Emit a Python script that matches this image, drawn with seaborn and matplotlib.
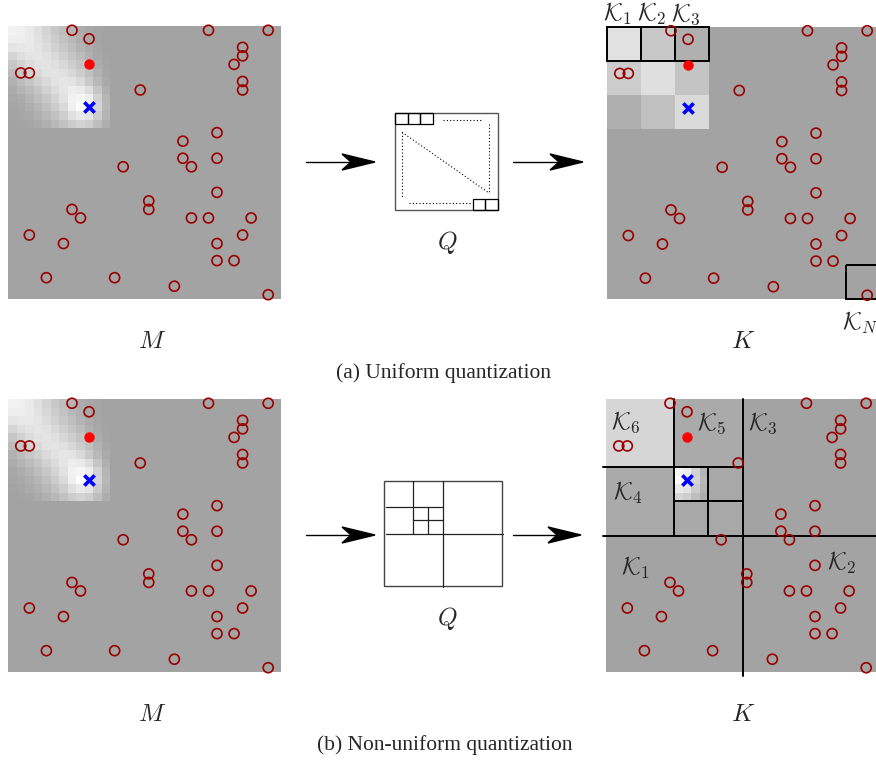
# quantization figure: map M -> quantizer Q -> quantized map K
import numpy as np
import matplotlib
matplotlib.use("Agg")
import matplotlib.pyplot as plt
import seaborn as sns
from matplotlib.patches import Rectangle, Polygon

sns.set_theme(style="white")
plt.rcParams['font.family'] = ['Liberation Serif', 'DejaVu Serif']
plt.rcParams['mathtext.fontset'] = 'cm'

# ---- data -------------------------------------------------------------
N_CELLS = 32
BACKGROUND = 163

# grey levels of the bright patch in the top left corner of M (12 x 12 cells)
heat_patch = [
    [242, 240, 234, 224, 212, 200, 190, 180, 172, 168, 165, 163],
    [238, 238, 234, 226, 216, 205, 194, 184, 175, 168, 165, 163],
    [228, 232, 233, 228, 220, 210, 200, 190, 180, 172, 166, 163],
    [212, 222, 228, 230, 226, 218, 208, 198, 188, 176, 168, 164],
    [198, 210, 220, 226, 228, 224, 216, 206, 196, 184, 172, 165],
    [188, 198, 210, 218, 226, 228, 224, 216, 205, 192, 178, 167],
    [178, 188, 198, 208, 218, 226, 230, 228, 218, 202, 184, 170],
    [172, 180, 188, 198, 210, 220, 230, 238, 234, 222, 198, 176],
    [168, 172, 180, 190, 200, 212, 226, 242, 246, 238, 210, 182],
    [166, 168, 174, 182, 192, 204, 218, 240, 252, 242, 212, 184],
    [164, 166, 170, 176, 184, 194, 206, 224, 234, 228, 204, 180],
    [163, 164, 166, 170, 176, 184, 194, 204, 212, 206, 190, 174],
]

# uniform quantization: mean grey of the 4x4-cell blocks
uniform_blocks = [
    [225, 200, 176],
    [204, 223, 196],
    [174, 192, 218],
]
BLOCK = 4
boxed_blocks = [(0, 0), (0, 1), (0, 2), (7, 7)]   # (row, col) of outlined blocks
box_labels = [r'$\mathcal{K}_1$', r'$\mathcal{K}_2$', r'$\mathcal{K}_3$', r'$\mathcal{K}_N$']

# non-uniform quantization: regions (row0, row1, col0, col1, grey)
quad_regions = [
    (0, 8, 0, 8, 214),
    (0, 8, 8, 16, 170),
    (8, 16, 0, 8, 170),
    (8, 12, 12, 16, 168),
    (12, 16, 8, 12, 168),
    (12, 16, 12, 16, 168),
]
fine_block = (8, 12, 8, 12)    # block kept at full resolution
# split lines of the quadtree (x0, y0, x1, y1) in cells
quad_lines = [
    (16, 0, 16, 32.5),
    (-0.3, 16, 32.5, 16),
    (-0.3, 8, 16, 8),
    (8, 0, 8, 16),
    (12, 8, 12, 16),
    (8, 12, 16, 12),
]
quad_labels = [r'$\mathcal{K}_1$', r'$\mathcal{K}_2$', r'$\mathcal{K}_3$',
               r'$\mathcal{K}_4$', r'$\mathcal{K}_5$', r'$\mathcal{K}_6$']
quad_label_x = [1.8, 25.9, 16.6, 0.8, 10.7, 0.6]
quad_label_y = [20.6, 20.0, 3.6, 11.8, 3.6, 3.5]

# other agents, target and own position (cell column, cell row)
obstacle_cols = [7, 9, 23, 30, 27, 27, 26, 27, 27, 1, 2, 15, 24, 20, 20, 21, 24, 13,
                 24, 16, 16, 7, 8, 21, 23, 28, 2, 6, 27, 24, 24, 26, 4, 12, 19, 30]
obstacle_rows = [0, 1, 0, 0, 2, 3, 4, 6, 7, 5, 5, 7, 12, 13, 15, 16, 15, 16,
                 19, 20, 21, 21, 22, 22, 22, 22, 24, 25, 24, 25, 27, 27, 29, 29, 30, 31]
target_cell = (9, 4)
agent_cell = (9, 9)

# ---- grids ------------------------------------------------------------
n_patch = len(heat_patch)
grid_m = np.full((N_CELLS, N_CELLS), BACKGROUND, dtype=float)
grid_m[:n_patch, :n_patch] = heat_patch

grid_uniform = np.full((N_CELLS, N_CELLS), BACKGROUND, dtype=float)
grid_uniform[:n_patch, :n_patch] = np.kron(np.array(uniform_blocks), np.ones((BLOCK, BLOCK)))

grid_quad = np.full((N_CELLS, N_CELLS), BACKGROUND, dtype=float)
for r0, r1, c0, c1, val in quad_regions:
    grid_quad[r0:r1, c0:c1] = val
r0, r1, c0, c1 = fine_block
grid_quad[r0:r1, c0:c1] = grid_m[r0:r1, c0:c1]

# ---- figure -----------------------------------------------------------
W, H = 876, 760
fig = plt.figure(figsize=(W / 100, H / 100), dpi=100)


def px_axes(left, top, width, height):
    # axes placed by pixel box (origin top left)
    return fig.add_axes([left / W, 1 - (top + height) / H, width / W, height / H])


canvas = px_axes(0, 0, W, H)
canvas.set_xlim(0, W)
canvas.set_ylim(H, 0)
canvas.axis('off')


def draw_map(ax, grid):
    sns.heatmap(grid, cmap='gray', vmin=0, vmax=255, cbar=False,
                xticklabels=False, yticklabels=False, ax=ax)
    ax.set_xlim(0, N_CELLS)
    ax.set_ylim(N_CELLS, 0)


def draw_agents(ax):
    xs = np.array(obstacle_cols) + 0.5
    ys = np.array(obstacle_rows) + 0.5
    ax.scatter(xs, ys, s=52, facecolors='none', edgecolors='#990000',
               linewidths=1.2, zorder=5, clip_on=False)
    ax.scatter([target_cell[0] + 0.5], [target_cell[1] + 0.5], s=42, color='#ff0000',
               zorder=6, clip_on=False)
    ax.scatter([agent_cell[0] + 0.5], [agent_cell[1] + 0.5], s=55, marker='x',
               color='#0000ff', linewidths=2.6, zorder=6, clip_on=False)


MAP = 273
rows_top = [26, 399]
LABEL_FS = 17.5

# left column: raw maps M
for top in rows_top:
    ax = px_axes(8, top, MAP, MAP)
    draw_map(ax, grid_m)
    draw_agents(ax)

# (a) uniform K
ax_u = px_axes(607, 26.5, MAP, MAP)
draw_map(ax_u, grid_uniform)
for (br, bc), lab in zip(boxed_blocks, box_labels):
    ax_u.add_patch(Rectangle((bc * BLOCK, br * BLOCK), BLOCK, BLOCK, fill=False,
                             edgecolor='black', lw=1.4, zorder=4, clip_on=False))
for (br, bc), lab in zip(boxed_blocks[:3], box_labels[:3]):
    ax_u.text(bc * BLOCK - 0.5, -0.7, lab, fontsize=LABEL_FS, ha='left', va='baseline',
              clip_on=False)
ax_u.text(27.6, 35.6, box_labels[3], fontsize=LABEL_FS, ha='left', va='baseline',
          clip_on=False)
draw_agents(ax_u)

# (b) non-uniform K
ax_q = px_axes(606, 399, MAP, MAP)
draw_map(ax_q, grid_quad)
for x0, y0, x1, y1 in quad_lines:
    ax_q.plot([x0, x1], [y0, y1], color='black', lw=1.4, zorder=4, clip_on=False)
for lab, lx, ly in zip(quad_labels, quad_label_x, quad_label_y):
    ax_q.text(lx, ly, lab, fontsize=LABEL_FS, ha='left', va='baseline', zorder=7)
draw_agents(ax_q)

# quantizer sketch (a): block list Q
q_a = px_axes(395, 113, 103, 97)
q_a.set_xlim(0, 1)
q_a.set_ylim(1, 0)
q_a.axis('off')
q_a.add_patch(Rectangle((0, 0), 1, 1, fill=False, edgecolor='#555555', lw=1.0, clip_on=False))
for i in range(3):
    q_a.add_patch(Rectangle((i * 0.122, 0), 0.122, 0.117, fill=False,
                            edgecolor='black', lw=0.9, clip_on=False))
for i in range(2):
    q_a.add_patch(Rectangle((0.756 + i * 0.122, 0.887), 0.122, 0.113, fill=False,
                            edgecolor='black', lw=0.9, clip_on=False))
dotted = [
    ((0.466, 0.854), (0.068, 0.068)),
    ((0.913, 0.913), (0.117, 0.825)),
    ((0.068, 0.913), (0.198, 0.825)),
    ((0.068, 0.068), (0.198, 0.866)),
    ((0.136, 0.748), (0.925, 0.925)),
]
for xs, ys in dotted:
    q_a.plot(xs, ys, color='black', lw=0.8, ls=(0, (1, 2)))

# quantizer sketch (b): quadtree Q
q_b = px_axes(384, 481, 117.5, 105)
q_b.set_xlim(0, N_CELLS)
q_b.set_ylim(N_CELLS, 0)
q_b.axis('off')
q_b.add_patch(Rectangle((0, 0), N_CELLS, N_CELLS, fill=False, edgecolor='#444444',
                        lw=1.0, clip_on=False))
for x0, y0, x1, y1 in quad_lines:
    q_b.plot([max(x0, 0.5), min(x1, 32.3)], [max(y0, 0.0), min(y1, 32.3)],
             color='#222222', lw=0.9, clip_on=False)

# arrows (stealth heads)
arrows = [(306, 375, 162), (513, 583, 162), (306, 375, 535), (513, 581, 535)]
for x0, x1, y in arrows:
    canvas.plot([x0, x1 - 20], [y, y], color='black', lw=1.0)
    canvas.add_patch(Polygon([(x1, y), (x1 - 33, y - 8), (x1 - 24, y), (x1 - 33, y + 8)],
                             closed=True, color='black'))

# labels and captions
for yy in (342, 715):
    canvas.text(152, yy, '$M$', fontsize=18, ha='center', va='center')
    canvas.text(743, yy, '$K$', fontsize=18, ha='center', va='center')
canvas.text(447, 243, '$Q$', fontsize=18, ha='center', va='center')
canvas.text(447, 619, '$Q$', fontsize=18, ha='center', va='center')
canvas.text(443, 373, '(a) Uniform quantization', fontsize=15.5, ha='center', va='center')
canvas.text(445, 745, '(b) Non-uniform quantization', fontsize=15.5, ha='center', va='center')

fig.savefig('out.png', dpi=100)
